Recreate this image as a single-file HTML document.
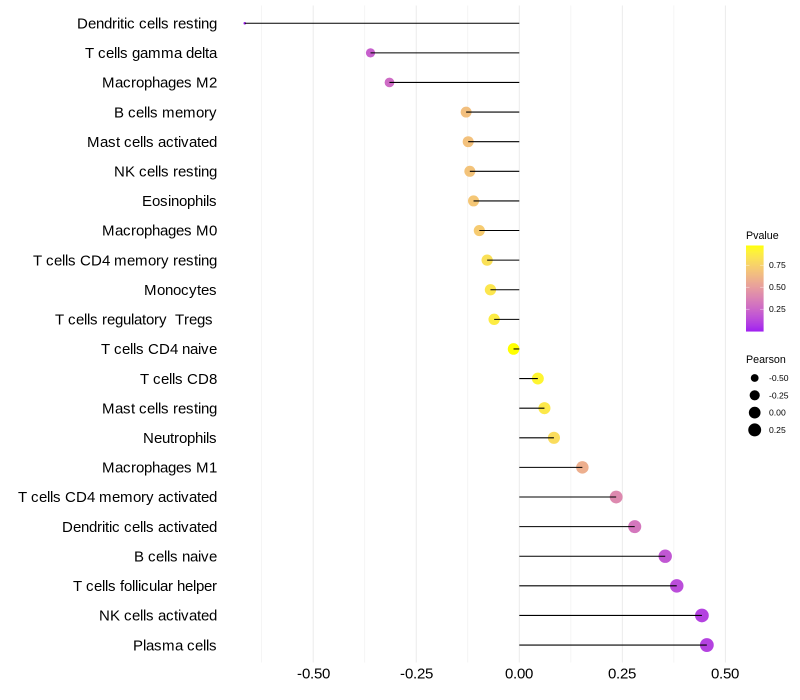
<!DOCTYPE html>
<html lang="en">
<head>
<meta charset="utf-8">
<title>Immune cell correlation lollipop chart</title>
<style>
html,body{margin:0;padding:0;background:#fff;}
#chart{display:block;width:800px;height:700px;font-family:"Liberation Sans",sans-serif;}
</style>
</head>
<body>
<svg id="chart" xmlns="http://www.w3.org/2000/svg" width="800" height="700" viewBox="0 0 800 700"></svg>
<script>
const categories = ["Dendritic cells resting","T cells gamma delta","Macrophages M2","B cells memory","Mast cells activated","NK cells resting","Eosinophils","Macrophages M0","T cells CD4 memory resting","Monocytes","T cells regulatory  Tregs ","T cells CD4 naive","T cells CD8","Mast cells resting","Neutrophils","Macrophages M1","T cells CD4 memory activated","Dendritic cells activated","B cells naive","T cells follicular helper","NK cells activated","Plasma cells"];
const pearson = [-0.666,-0.361,-0.315,-0.129,-0.124,-0.12,-0.111,-0.097,-0.078,-0.07,-0.061,-0.014,0.045,0.061,0.084,0.153,0.235,0.28,0.354,0.382,0.443,0.455];
const pvalue = [0.0,0.22,0.27,0.66,0.67,0.68,0.7,0.72,0.82,0.85,0.88,0.97,0.92,0.86,0.8,0.58,0.4,0.32,0.18,0.14,0.1,0.1];
const xTicks = [-0.5,-0.25,0,0.25,0.5];
const xMinorTicks = [-0.625,-0.375,-0.125,0.125,0.375];
const colorTicks = [0.75,0.5,0.25];
const sizeTicks = [-0.5,-0.25,0,0.25];

const NS = "http://www.w3.org/2000/svg";
const svg = document.getElementById("chart");

function make(tag, attrs, parent, text) {
  const el = document.createElementNS(NS, tag);
  for (const k in attrs) el.setAttribute(k, attrs[k]);
  if (text !== undefined) el.textContent = text;
  (parent || svg).appendChild(el);
  return el;
}

/* whole-pixel glyph advances of hinted Liberation Sans at 15px */
function advance(ch) {
  if ("il".includes(ch)) return 3;
  if ("ft .".includes(ch)) return 4;
  if (ch === "r" || ch === "-") return 5;
  if ("mM".includes(ch)) return 13;
  if ("CDN".includes(ch)) return 11;
  if ("BEKP".includes(ch)) return 10;
  if (ch === "T") return 9;
  return 8;
}
function glyphXs(str, start) {
  let x = start;
  const out = [];
  for (const ch of str) { out.push(x); x += advance(ch); }
  return out.join(" ");
}
function textWidth(str) {
  let w = 0;
  for (const ch of str) w += advance(ch);
  return w;
}

/* axis functions */
const xScale = v => 519.3 + v * 412.2;
const yScale = i => 23.25 + i * 29.61;
const panelTop = 5.5, panelBottom = 662.5;

/* size scale over the data range */
const sMin = Math.min.apply(null, pearson), sMax = Math.max.apply(null, pearson);
const radius = v => {
  const t = Math.max(0, Math.min(1, (v - sMin) / (sMax - sMin)));
  return 1.3 + 5.6 * Math.pow(t, 0.4);
};

/* colour scale: Lab interpolation purple to yellow */
function toLab(c) {
  const f = u => { u /= 255; return u > 0.04045 ? Math.pow((u + 0.055) / 1.055, 2.4) : u / 12.92; };
  const r = f(c[0]), g = f(c[1]), b = f(c[2]);
  const X = (0.4124 * r + 0.3576 * g + 0.1805 * b) / 0.95047;
  const Y = 0.2126 * r + 0.7152 * g + 0.0722 * b;
  const Z = (0.0193 * r + 0.1192 * g + 0.9505 * b) / 1.08883;
  const h = t => t > 0.008856 ? Math.cbrt(t) : 7.787 * t + 16 / 116;
  return [116 * h(Y) - 16, 500 * (h(X) - h(Y)), 200 * (h(Y) - h(Z))];
}
function fromLab(l) {
  const fy = (l[0] + 16) / 116, fx = l[1] / 500 + fy, fz = fy - l[2] / 200;
  const h = t => t * t * t > 0.008856 ? t * t * t : (t - 16 / 116) / 7.787;
  const X = 0.95047 * h(fx), Y = h(fy), Z = 1.08883 * h(fz);
  const g = u => {
    u = u > 0.0031308 ? 1.055 * Math.pow(u, 1 / 2.4) - 0.055 : 12.92 * u;
    return Math.round(Math.max(0, Math.min(1, u)) * 255);
  };
  return "rgb(" + g(3.2406 * X - 1.5372 * Y - 0.4986 * Z) + "," + g(-0.9689 * X + 1.8758 * Y + 0.0415 * Z) + "," + g(0.0557 * X - 0.204 * Y + 1.057 * Z) + ")";
}
const labLow = toLab([160, 32, 240]), labHigh = toLab([255, 255, 0]);
const pMax = Math.max.apply(null, pvalue);
const color = p => {
  const t = p / pMax;
  return fromLab([0, 1, 2].map(i => labLow[i] + (labHigh[i] - labLow[i]) * t));
};

/* gridlines */
const grid = make("g", {}, svg);


xMinorTicks.forEach(v => {
  const l = make("line", {x1: xScale(v), x2: xScale(v), y1: panelTop, y2: panelBottom, stroke: "#f0f0f0", "stroke-width": 0.7}, grid);
  
  
});
xTicks.forEach(v => {
  const l = make("line", {x1: xScale(v), x2: xScale(v), y1: panelTop, y2: panelBottom, stroke: "#ebebeb", "stroke-width": 1}, grid);
  
  
});

/* points then stems */
const series = make("g", {}, svg);


categories.forEach((name, i) => {
  const c = make("circle", {cx: xScale(pearson[i]), cy: yScale(i), r: radius(pearson[i]), fill: color(pvalue[i])}, series);
  
  
});
categories.forEach((name, i) => {
  const l = make("line", {x1: xScale(0), x2: xScale(pearson[i]), y1: yScale(i), y2: yScale(i), stroke: "#000", "stroke-width": 1.07}, series);
  
  
});

/* y axis labels */
const yAxis = make("g", {}, svg);


categories.forEach((name, i) => {
  const t = make("text", {x: glyphXs(name, 217 - textWidth(name)), y: yScale(i) + 5.2, "font-size": 15, fill: "#000", style: "white-space:pre"}, yAxis, name);
  
  
});

/* x axis labels */
const xAxis = make("g", {}, svg);


xTicks.forEach(v => {
  const s = v.toFixed(2);
  const t = make("text", {x: glyphXs(s, Math.round(xScale(v) - textWidth(s) / 2)), y: 678.5, "font-size": 15, fill: "#000"}, xAxis, s);
  
  
});

/* colour legend */
const colorLegend = make("g", {}, svg);


const cTitle = make("text", {x: 746, y: 239, "font-size": 10.7, fill: "#000"}, colorLegend, "Pvalue");


const barTop = 245.5, barBottom = 331.5, barX = 746, barW = 17.6;
const barY = p => 331.2 - p * 88;
const barSteps = [];
for (let y = barTop; y < barBottom; y += 1) barSteps.push(y);
barSteps.forEach(y => {
  const p = Math.min(pMax, (331.2 - y - 0.5) / 88);
  const r = make("rect", {x: barX, y: y, width: barW, height: 1.05, fill: color(Math.max(0, p))}, colorLegend);
  
  
});
colorTicks.forEach(p => {
  const y = barY(p);
  const a = make("line", {x1: barX, x2: barX + 3.5, y1: y, y2: y, stroke: "#fff", "stroke-width": 0.5, "stroke-opacity": 0.8}, colorLegend);
  
  
  const b = make("line", {x1: barX + barW - 3.5, x2: barX + barW, y1: y, y2: y, stroke: "#fff", "stroke-width": 0.5, "stroke-opacity": 0.8}, colorLegend);
  
  
  const t = make("text", {x: 769, y: y + 3, "font-size": 8.6, fill: "#000"}, colorLegend, p.toFixed(2));
  
  
});

/* size legend */
const sizeLegend = make("g", {}, svg);


const sTitle = make("text", {x: 746, y: 363, "font-size": 10.7, fill: "#000"}, sizeLegend, "Pearson");


sizeTicks.forEach((v, i) => {
  const y = 378 + i * 17.3;
  const c = make("circle", {cx: 754.7, cy: y, r: radius(v), fill: "#000"}, sizeLegend);
  
  
  const t = make("text", {x: 769, y: y + 3, "font-size": 8.6, fill: "#000"}, sizeLegend, v.toFixed(2));
  
  
});
</script>
</body>
</html>
